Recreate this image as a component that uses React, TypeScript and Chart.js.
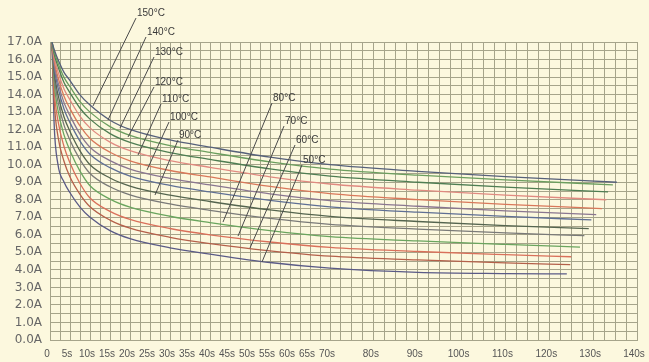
import React, { useEffect, useRef } from 'react';
import { Chart, LinearScale, registerables } from 'chart.js';

Chart.register(...registerables);

// ---------- data ----------
const times = [0.5, 1, 2, 3.5, 5, 7.5, 10, 15, 20, 30, 40, 55, 70, 90, 110];
const endTimes = [135.4, 134.5, 133.4, 133, 132, 130.7, 129.6, 129, 128, 127, 125, 124.8, 124];

const c150 = [17, 16.6, 16.0, 15.27, 14.8, 13.98, 13.4, 12.54, 12.01, 11.41, 11.0, 10.43, 10.0, 9.62, 9.32, 9.0];
const c140 = [17, 16.5, 15.8, 14.98, 14.45, 13.6, 13.0, 12.17, 11.67, 11.09, 10.7, 10.16, 9.75, 9.4, 9.13, 8.85];
const c130 = [17, 16.35, 15.6, 14.69, 14.1, 13.22, 12.6, 11.77, 11.27, 10.69, 10.3, 9.76, 9.35, 9.0, 8.72, 8.45];
const c120 = [17, 16.2, 15.3, 14.32, 13.7, 12.76, 12.1, 11.29, 10.8, 10.23, 9.85, 9.31, 8.9, 8.55, 8.27, 8.0];
const c115 = [17, 16.0, 15.0, 13.9, 13.2, 12.21, 11.5, 10.71, 10.22, 9.67, 9.3, 8.76, 8.35, 8.01, 7.74, 7.5];
const c110 = [17, 15.85, 14.7, 13.54, 12.8, 11.75, 11.0, 10.23, 9.75, 9.22, 8.85, 8.34, 7.95, 7.63, 7.37, 7.15];
const c100 = [17, 15.65, 14.4, 13.18, 12.4, 11.35, 10.6, 9.83, 9.35, 8.82, 8.45, 7.97, 7.6, 7.29, 7.05, 6.85];
const c95 = [17, 15.4, 14.0, 12.72, 11.9, 10.79, 10.0, 9.24, 8.78, 8.26, 7.9, 7.42, 7.05, 6.76, 6.53, 6.35];
const c90 = [17, 15.15, 13.6, 12.26, 11.4, 10.29, 9.5, 8.74, 8.28, 7.76, 7.4, 6.94, 6.6, 6.33, 6.11, 5.95];
const c80 = [17, 14.8, 13.1, 11.7, 10.8, 9.63, 8.8, 8.04, 7.58, 7.06, 6.7, 6.24, 5.9, 5.65, 5.45, 5.3];
const c70 = [17, 14.4, 12.5, 11.04, 10.1, 8.93, 8.1, 7.34, 6.88, 6.36, 6.0, 5.59, 5.28, 5.05, 4.87, 4.75];
const c60 = [17, 13.8, 11.6, 10.2, 9.3, 8.31, 7.6, 6.84, 6.38, 5.86, 5.5, 5.09, 4.78, 4.57, 4.4, 4.3];
const c50 = [17, 12.5, 10.0, 9.02, 8.4, 7.58, 7.0, 6.24, 5.78, 5.26, 4.9, 4.42, 4.1, 3.86, 3.79, 3.77];

const seriesValues = [c150, c140, c130, c120, c115, c110, c100, c95, c90, c80, c70, c60, c50];
const seriesColors = [
  '#56607a', '#6b9e5e', '#4e7d52', '#e08a80', '#d9785a', '#8a7690', '#5f6f94',
  '#55654f', '#7a7a78', '#6aa55e', '#d9705a', '#b4604a', '#5a5a86',
];

const xLabelValues = [0, 5, 10, 15, 20, 25, 30, 35, 40, 45, 50, 55, 60, 65, 70, 80, 90, 100, 110, 120, 130, 140];
const xLabelTexts = ['0', '5s', '10s', '15s', '20s', '25s', '30s', '35s', '40s', '45s', '50s', '55s', '60s', '65s', '70s', '80s', '90s', '100s', '110s', '120s', '130s', '140s'];

const tempLabels = ['150°C', '140°C', '130°C', '120°C', '110°C', '100°C', '90°C', '80°C', '70°C', '60°C', '50°C'];
const tempLabelT = [21.75, 24.25, 26.25, 26.25, 28, 30, 32.25, 55.75, 58.75, 61.5, 63.25];
const tempLabelA = [18.65, 17.57, 16.43, 14.72, 13.75, 12.72, 11.69, 13.8, 12.49, 11.41, 10.27];
const leaderEndT = [10.75, 14.5, 17.5, 19.5, 22, 24.25, 26.25, 43.25, 47, 50, 53];
const leaderEndA = [13.35, 12.55, 12.09, 11.58, 10.55, 9.7, 8.27, 6.73, 5.93, 5.25, 4.45];

// ---------- custom piecewise-linear time scale ----------
const BREAK_T = 70;
const STRETCH = 1.0964;
const GRID_STEP = 2.5;
const warp = (t: number) => (t <= BREAK_T ? t : BREAK_T + (t - BREAK_T) * STRETCH);
const unwarp = (u: number) => (u <= BREAK_T ? u : BREAK_T + (u - BREAK_T) / STRETCH);

class PiecewiseScale extends (LinearScale as any) {
  static id = 'piecewise';
  buildTicks() {
    const ticks: { value: number }[] = [];
    for (let t = this.min; t <= this.max + 1e-9; t += GRID_STEP) ticks.push({ value: t });
    this.start = this.min;
    this.end = this.max;
    return ticks;
  }
  getPixelForValue(value: number) {
    if (value === null || value === undefined || isNaN(value)) return NaN;
    const a = warp(this.min);
    const b = warp(this.max);
    return this.getPixelForDecimal((warp(value) - a) / (b - a));
  }
  getValueForPixel(pixel: number) {
    const a = warp(this.min);
    const b = warp(this.max);
    return unwarp(a + this.getDecimalForPixel(pixel) * (b - a));
  }
}
Chart.register(PiecewiseScale as any);

const GRID = '#a6a48a';
const BG = '#fcf8de';
const NARROW = '"Liberation Sans Narrow", "Liberation Sans", Arial, sans-serif';

const bgPlugin = {
  id: 'bg',
  beforeDraw(chart: any) {
    const { ctx, width, height } = chart;
    ctx.save();
    ctx.fillStyle = BG;
    ctx.fillRect(0, 0, width, height);
    ctx.restore();
  },
};

const labelPlugin = {
  id: 'tempLabels',
  afterDatasetsDraw(chart: any) {
    const { ctx } = chart;
    const xs = chart.scales.x;
    const ys = chart.scales.y;
    ctx.save();
    ctx.font = `10px ${NARROW}`;
    ctx.textAlign = 'left';
    ctx.textBaseline = 'middle';
    ctx.fillStyle = '#3a3a3a';
    ctx.strokeStyle = '#4a4a4a';
    ctx.lineWidth = 1;
    tempLabels.forEach((txt, i) => {
      const tx = xs.getPixelForValue(tempLabelT[i]);
      const ty = ys.getPixelForValue(tempLabelA[i]);
      const ex = xs.getPixelForValue(leaderEndT[i]);
      const ey = ys.getPixelForValue(leaderEndA[i]);
      ctx.beginPath();
      ctx.moveTo(tx - 1, ty + 5);
      ctx.lineTo(ex, ey);
      ctx.stroke();
      ctx.fillText(txt, tx, ty);
    });
    ctx.restore();
  },
};

export default function App() {
  const ref = useRef<HTMLCanvasElement>(null);
  useEffect(() => {
    if (!ref.current) return;
    const datasets = seriesValues.map((vals, i) => ({
      data: [...times, endTimes[i]].map((t, j) => ({ x: t, y: vals[j] })),
      borderColor: seriesColors[i],
      borderWidth: 1.3,
      pointRadius: 0,
      fill: false,
      cubicInterpolationMode: 'monotone' as const,
    }));
    const chart = new Chart(ref.current, {
      type: 'line',
      data: { datasets },
      plugins: [bgPlugin, labelPlugin],
      options: {
        responsive: false,
        animation: false,
        layout: { padding: { top: 42, right: 12, left: 0, bottom: 0 } },
        plugins: { legend: { display: false }, tooltip: { enabled: false } },
        scales: {
          x: {
            type: 'piecewise' as any,
            min: 0,
            max: 140,
            grid: { color: GRID, lineWidth: 1, drawTicks: false },
            border: { color: GRID },
            ticks: {
              autoSkip: false,
              maxRotation: 0,
              minRotation: 0,
              padding: 8,
              labelOffset: -3,
              color: '#555',
              font: { family: NARROW, size: 10 },
              callback: (v: any) => {
                const i = xLabelValues.indexOf(Number(v));
                return i >= 0 ? xLabelTexts[i] : '';
              },
            },
            afterFit: (s: any) => {
              s.height = 22;
              s.paddingLeft = 0;
              s.paddingRight = 0;
            },
          } as any,
          y: {
            type: 'linear',
            min: 0,
            max: 17,
            grid: { color: GRID, lineWidth: 1, drawTicks: false },
            border: { color: GRID },
            ticks: {
              stepSize: 0.5,
              autoSkip: false,
              padding: 8,
              color: '#666',
              font: { family: '"DejaVu Sans", sans-serif', size: 12 },
              callback: (v: any) => (Number.isInteger(Number(v)) ? Number(v).toFixed(1) + 'A' : ''),
            },
            afterFit: (s: any) => {
              s.width = 50;
              s.paddingTop = 0;
              s.paddingBottom = 0;
            },
          },
        },
      } as any,
    });
    return () => chart.destroy();
  }, []);
  return (
    <div style={{ position: 'fixed', left: 0, top: 0, width: 649, height: 362 }}>
      <canvas ref={ref} width={649} height={362} style={{ display: 'block', width: 649, height: 362 }} />
    </div>
  );
}
